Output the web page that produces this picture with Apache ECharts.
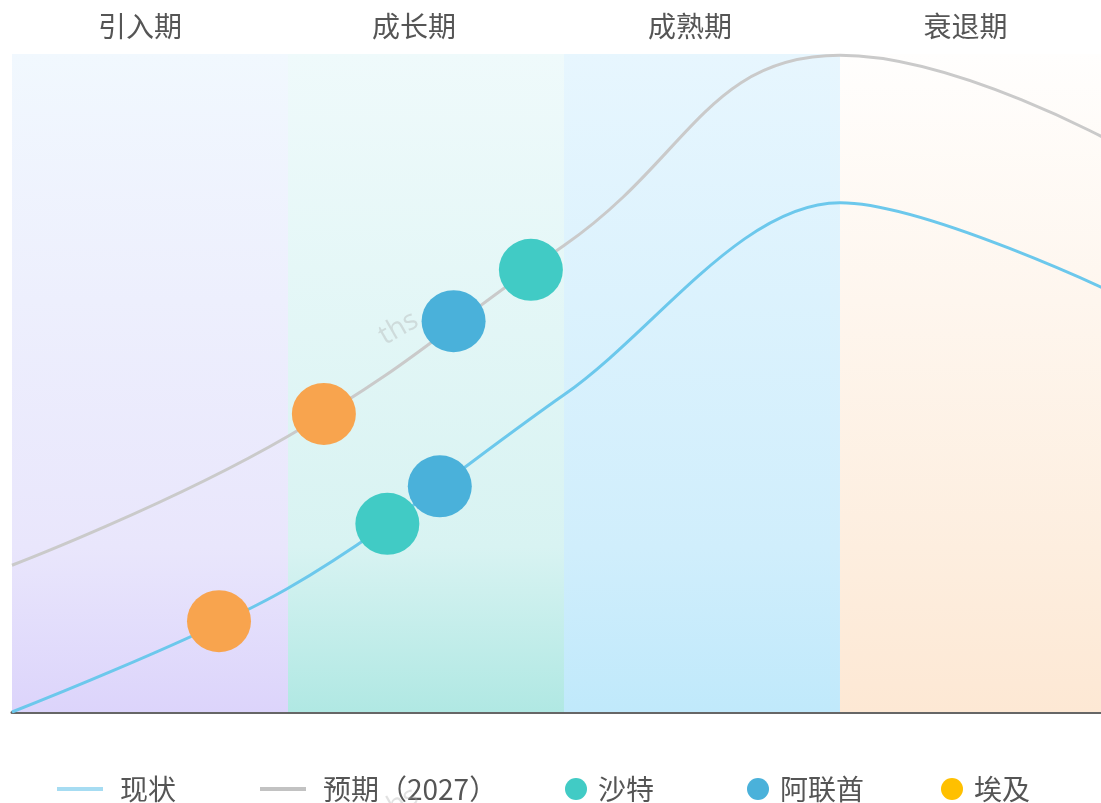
<!DOCTYPE html>
<html>
<head>
<meta charset="utf-8">
<title>产业生命周期</title>
<script src="https://cdn.jsdelivr.net/npm/echarts@6/dist/echarts.min.js"></script>
<style>
  html, body { margin: 0; padding: 0; background: #fff; }
  #chart { width: 1101px; height: 803px; }
</style>
</head>
<body>
<div id="chart"></div>
<script>
// Lifecycle phases, one x unit each; curve values sit on the phase boundaries
const phases = ['引入期', '成长期', '成熟期', '衰退期'];
const boundaries = [0, 1, 2, 3, 4];

// Current level (现状) and expected level (预期 2027) at each boundary
const currentLevels = [0, 18.8, 48.2, 77.4, 63.5];
const expectedLevels = [22.3, 41.9, 70.9, 99.8, 86.3];

// Country positions: first point on the current curve, second on the expected curve
const saudi = [[1.36, 28.6], [1.88, 67.2]];
const uae = [[1.55, 34.3], [1.6, 59.4]];
const egypt = [[0.75, 13.8], [1.13, 45.3]];

// Visible part of the x range (the decline phase runs past the right edge)
const xVisibleMax = 3.9457;

const chart = echarts.init(document.getElementById('chart'));
const FONT = '"Noto Sans CJK SC", "Noto Sans", sans-serif';
const grad = (a, b, c) => new echarts.graphic.LinearGradient(0, 0, 0, 1, [
  { offset: 0, color: a }, { offset: 0.75, color: b }, { offset: 1, color: c }
]);
const bandColors = [
  grad('#F1F8FE', '#E9E6FC', '#DCD4FB'),
  grad('#EFFAFB', '#D8F3F2', '#B0E8E3'),
  grad('#E7F6FE', '#D0EEFC', '#C0E9FB'),
  grad('#FFFEFD', '#FDEEDF', '#FDE8D4')
];
const labelOffsets = [-10, -12, -12, -5];

const legendBase = {
  top: 775,
  padding: 0,
  itemHeight: 22,
  itemWidth: 22,
  textStyle: { fontSize: 28, color: '#555', fontFamily: FONT, padding: [0, 0, 0, 6] },
  selectedMode: false
};
const lineLegendText = Object.assign({}, legendBase.textStyle, { padding: [0, 0, 0, 12] });

chart.setOption({
  backgroundColor: '#fff',
  animation: false,
  grid: { left: 12, right: 0, top: 54, bottom: 91 },
  xAxis: {
    type: 'value', min: 0, max: xVisibleMax,
    axisLine: { show: true, lineStyle: { color: '#666', width: 3 } },
    axisTick: { show: false }, axisLabel: { show: false }, splitLine: { show: false }
  },
  yAxis: {
    type: 'value', min: 0, max: 100, show: false, splitLine: { show: false }
  },
  legend: [
    Object.assign({}, legendBase, {
      left: 57, icon: 'rect', itemWidth: 46, itemHeight: 4, textStyle: lineLegendText,
      data: [{ name: '现状', itemStyle: { color: '#A6DCF2' } }]
    }),
    Object.assign({}, legendBase, {
      left: 260, icon: 'rect', itemWidth: 46, itemHeight: 4, textStyle: lineLegendText,
      data: [{ name: '预期（2027）', itemStyle: { color: '#C2C2C2' } }]
    }),
    Object.assign({}, legendBase, { left: 565, icon: 'circle', data: [{ name: '沙特' }] }),
    Object.assign({}, legendBase, { left: 747, icon: 'circle', data: [{ name: '阿联酋' }] }),
    Object.assign({}, legendBase, {
      left: 941, icon: 'circle',
      data: [{ name: '埃及', itemStyle: { color: '#FFC000' } }]
    })
  ],
  graphic: [
    {
      type: 'text', left: 374, top: 306, rotation: Math.PI / 6, z: 100,
      style: { text: 'ths', font: '28px "Open Sans", sans-serif', fill: 'rgba(170,170,170,0.35)' }
    },
    {
      type: 'text', left: 374, top: 782, rotation: Math.PI / 6, z: 100,
      style: { text: 'ths', font: '28px "Open Sans", sans-serif', fill: 'rgba(170,170,170,0.35)' }
    }
  ],
  series: [
    {
      name: '现状', type: 'line', smooth: 0.33, showSymbol: false, z: 3,
      data: boundaries.map((x, i) => [x, currentLevels[i]]),
      lineStyle: { color: '#6CC8EC', width: 3 },
      itemStyle: { color: '#6CC8EC' },
      markArea: {
        silent: true,
        label: {
          show: true, position: 'top', distance: 14,
          fontSize: 28, color: '#555', fontFamily: FONT
        },
        data: phases.map((p, i) => [
          {
            name: p, xAxis: boundaries[i],
            itemStyle: { color: bandColors[i] },
            label: { offset: [labelOffsets[i], 0] }
          },
          { xAxis: Math.min(boundaries[i + 1], xVisibleMax) }
        ])
      }
    },
    {
      name: '预期（2027）', type: 'line', smooth: 0.45, showSymbol: false, z: 3,
      data: boundaries.map((x, i) => [x, expectedLevels[i]]),
      lineStyle: { color: '#CACACA', width: 3 },
      itemStyle: { color: '#CACACA' }
    },
    {
      name: '沙特', type: 'scatter', data: saudi, symbolSize: [64, 62], z: 5,
      itemStyle: { color: '#41CBC5', opacity: 1 }
    },
    {
      name: '阿联酋', type: 'scatter', data: uae, symbolSize: [64, 62], z: 5,
      itemStyle: { color: '#4AB1DA', opacity: 1 }
    },
    {
      name: '埃及', type: 'scatter', data: egypt, symbolSize: [64, 62], z: 5,
      itemStyle: { color: '#F8A44E', opacity: 1 }
    }
  ]
});
</script>
</body>
</html>
